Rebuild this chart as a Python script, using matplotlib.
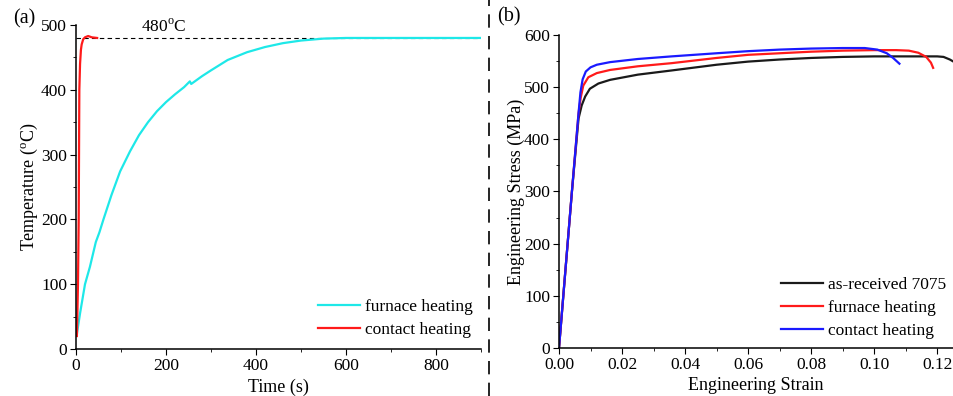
import matplotlib
matplotlib.use('Agg')
import matplotlib.pyplot as plt
from matplotlib.lines import Line2D
from matplotlib.ticker import MultipleLocator

# heating curves (time in s, temperature in degC)
furnace_t = [1.5, 9, 20, 31, 44, 52, 61, 79, 98, 120, 140, 160, 180, 200, 220, 240,
             253, 256, 260, 280, 300, 337, 380, 420, 460, 500, 550, 600, 700, 800, 900]
furnace_T = [21, 55, 100, 127, 165, 180, 200, 238, 274, 305, 330, 350, 367, 381, 393, 404,
             413, 409, 411, 421, 430, 446, 458, 466, 472, 476, 479, 480, 480, 480, 480]
contact_t = [2, 4.4, 6, 7.4, 9, 11, 12.6, 16, 20, 27, 35, 47]
contact_T = [20, 100, 200, 400, 440, 462, 470, 478, 481, 483, 481, 480]
target_T = 480

# tensile curves (strain, stress in MPa)
asrec_e = [0, 0.0041, 0.0062, 0.0072, 0.0083, 0.0098, 0.0125, 0.0162, 0.025, 0.0357,
           0.05, 0.06, 0.07, 0.08, 0.09, 0.10, 0.11, 0.12, 0.122, 0.124, 0.126]
asrec_s = [0, 300, 440, 465, 482, 497, 507, 514, 524, 532,
           543, 549, 553, 556, 558, 559, 559, 559, 558, 553, 546]
furn_e = [0, 0.0041, 0.0062, 0.0069, 0.0077, 0.0093, 0.012, 0.0162, 0.025, 0.0357,
          0.05, 0.06, 0.07, 0.08, 0.09, 0.10, 0.107, 0.111, 0.114, 0.1165, 0.118, 0.1187]
furn_s = [0, 300, 450, 480, 503, 519, 527, 533, 540, 546,
          556, 562, 565, 568, 570, 571, 571, 570, 566, 558, 547, 537]
cont_e = [0, 0.0041, 0.0062, 0.0068, 0.0075, 0.0085, 0.01, 0.012, 0.0162, 0.025, 0.0357,
          0.05, 0.06, 0.07, 0.08, 0.09, 0.097, 0.101, 0.104, 0.106, 0.108]
cont_s = [0, 300, 450, 490, 515, 530, 538, 543, 548, 554, 559,
          565, 569, 572, 574, 575, 575, 572, 565, 556, 545]

plt.rcParams['font.family'] = ['Liberation Serif', 'DejaVu Serif']
plt.rcParams['mathtext.fontset'] = 'custom'
plt.rcParams['mathtext.rm'] = 'Liberation Serif'
plt.rcParams['font.size'] = 12
plt.rcParams['axes.linewidth'] = 1.1
plt.rcParams['xtick.major.size'] = 4
plt.rcParams['ytick.major.size'] = 4
plt.rcParams['xtick.minor.size'] = 2.5
plt.rcParams['ytick.minor.size'] = 2.5

W, H = 954, 396
fig = plt.figure(figsize=(W / 100, H / 100), dpi=100)

def px_axes(l, t, r, b):
    return fig.add_axes([l / W, 1 - b / H, (r - l) / W, (b - t) / H])

ax1 = px_axes(76, 25, 481, 349)
ax2 = px_axes(559, 35, 953, 348)

for ax in (ax1, ax2):
    ax.spines['top'].set_visible(False)
    ax.spines['right'].set_visible(False)
    ax.tick_params(which='both', direction='out', labelsize=12.5, pad=2.5)

leg_kw = dict(loc='lower right', frameon=False, fontsize=12.5, handlelength=2.4,
              handletextpad=0.3, labelspacing=0.4, borderaxespad=0.0)

# (a) temperature history
ax1.plot(furnace_t, furnace_T, color='#1ee8e8', lw=1.6, label='furnace heating')
ax1.plot(contact_t, contact_T, color='#ff1a1a', lw=1.6, label='contact heating')
ax1.plot([0, 900], [target_T, target_T], color='k', lw=0.8, dashes=(4, 3), zorder=1)
ax1.text(195, target_T + 3, '480$^{\\mathrm{o}}$C', ha='center', va='bottom', fontsize=12.5)
ax1.set_xlim(0, 900)
ax1.set_ylim(0, 500)
ax1.xaxis.set_major_locator(MultipleLocator(200))
ax1.xaxis.set_minor_locator(MultipleLocator(100))
ax1.yaxis.set_major_locator(MultipleLocator(100))
ax1.yaxis.set_minor_locator(MultipleLocator(50))
ax1.set_xlabel('Time (s)', fontsize=13, labelpad=3)
ax1.set_ylabel('Temperature ($^{\\mathrm{o}}$C)', fontsize=13, labelpad=1)
ax1.legend(bbox_to_anchor=(0.997, 0.012), **leg_kw)
fig.text(13 / W, 1 - 19 / H, '(a)', fontsize=14.5, va='center', ha='left')

# (b) tensile curves
ax2.plot(asrec_e, asrec_s, color='#1a1a1a', lw=1.6, label='as-received 7075')
ax2.plot(furn_e, furn_s, color='#ff1a1a', lw=1.6, label='furnace heating')
ax2.plot(cont_e, cont_s, color='#1a1aff', lw=1.6, label='contact heating')
ax2.set_xlim(0, 0.125)
ax2.set_ylim(0, 600)
ax2.xaxis.set_major_locator(MultipleLocator(0.02))
ax2.xaxis.set_minor_locator(MultipleLocator(0.01))
ax2.yaxis.set_major_locator(MultipleLocator(100))
ax2.yaxis.set_minor_locator(MultipleLocator(50))
ax2.xaxis.set_major_formatter(lambda v, p: f'{v:.2f}')
ax2.set_xlabel('Engineering Strain', fontsize=13, labelpad=3)
ax2.set_ylabel('Engineering Stress (MPa)', fontsize=13, labelpad=-1)
ax2.legend(bbox_to_anchor=(1.0, 0.005), **leg_kw)
fig.text(497 / W, 1 - 17 / H, '(b)', fontsize=14.5, va='center', ha='left')

# dashed separator between the two panels
fig.add_artist(Line2D([489 / W, 489 / W], [0, 1], transform=fig.transFigure,
                      color='k', lw=1.2, dashes=(8, 5)))

fig.savefig('out.png', dpi=100)
